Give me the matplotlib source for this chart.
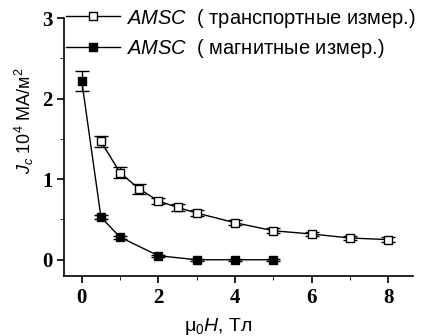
import matplotlib.pyplot as plt
from matplotlib.ticker import MultipleLocator
from matplotlib.lines import Line2D

plt.rcParams['mathtext.fontset'] = 'custom'
plt.rcParams['mathtext.rm'] = 'Liberation Sans'
plt.rcParams['mathtext.it'] = 'Liberation Sans:italic'

# transport measurements (open squares)
h_tr = [0.5, 1.0, 1.5, 2.0, 2.5, 3.0, 4.0, 5.0, 6.0, 7.0, 8.0]
jc_tr = [1.47, 1.08, 0.88, 0.73, 0.65, 0.58, 0.46, 0.36, 0.32, 0.27, 0.25]
err_tr = [0.07, 0.07, 0.06, 0.04, 0.04, 0.04, 0.03, 0.03, 0.03, 0.03, 0.03]

# magnetic measurements (filled squares)
h_mag = [0.0, 0.5, 1.0, 2.0, 3.0, 4.0, 5.0]
jc_mag = [2.22, 0.53, 0.28, 0.05, 0.0, 0.0, 0.0]
err_mag = [0.12, 0.03, 0.02, 0.01, 0.01, 0.01, 0.01]

fig = plt.figure(figsize=(4.22, 3.36), dpi=100)
ax = fig.add_axes([0.152, 0.179, 0.827, 0.767])

ax.errorbar(h_tr, jc_tr, yerr=err_tr, color='black', marker='s', mfc='white',
            mec='black', ms=6, lw=1, capsize=5, elinewidth=1)
ax.errorbar(h_mag, jc_mag, yerr=err_mag, color='black', marker='s', mfc='black',
            mec='black', ms=5.5, lw=1, capsize=5, elinewidth=1)

ax.set_xlim(-0.46, 8.65)
ax.set_ylim(-0.2, 3.0)
ax.xaxis.set_major_locator(MultipleLocator(2))
ax.xaxis.set_minor_locator(MultipleLocator(1))
ax.yaxis.set_major_locator(MultipleLocator(1))
ax.yaxis.set_minor_locator(MultipleLocator(0.5))
ax.spines['top'].set_visible(False)
ax.spines['right'].set_visible(False)
ax.spines['left'].set_linewidth(1.2)
ax.spines['bottom'].set_linewidth(1.2)
ax.tick_params(which='major', length=5, width=1.2, labelsize=15)
ax.tick_params(which='minor', length=3)
for lab in ax.get_xticklabels() + ax.get_yticklabels():
    lab.set_family('Liberation Serif')
    lab.set_weight('bold')

ax.set_xlabel(r'$\mathregular{\mu_0}$$\it{H}$, Тл', fontsize=14, family='Liberation Sans')
ax.xaxis.set_label_coords(0.44, -0.155)
ax.set_ylabel(r'$\it{J_c}$ 10$^\mathregular{4}$ МА/м$^\mathregular{2}$', fontsize=13,
              family='Liberation Sans')
ax.yaxis.set_label_coords(-0.08, 0.6)

handles = [
    Line2D([], [], color='black', lw=1, marker='s', mfc='white', mec='black', ms=5.5),
    Line2D([], [], color='black', lw=1, marker='s', mfc='black', mec='black', ms=5.5),
]
labels = [r'$\it{AMSC}$  ( транспортные измер.)', r'$\it{AMSC}$  ( магнитные измер.)']
ax.legend(handles, labels, loc='upper left', bbox_to_anchor=(0.005, 1.045), frameon=False,
          prop={'family': 'Liberation Sans', 'size': 14.5}, handlelength=2.7,
          handletextpad=0.3, borderaxespad=0.0, borderpad=0.0, labelspacing=0.35)

fig.savefig('out.png', dpi=100)
